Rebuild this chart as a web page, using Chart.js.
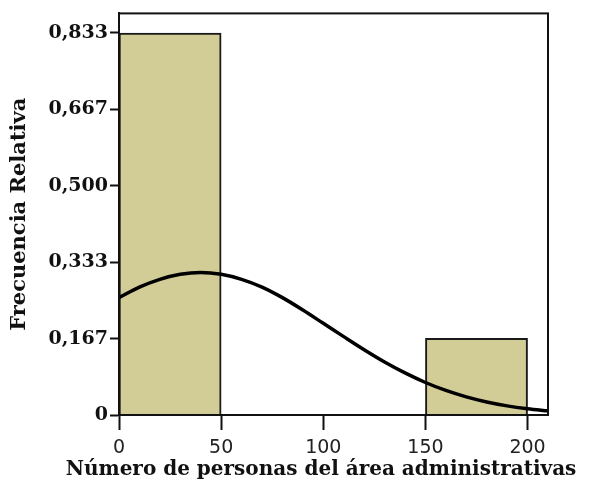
<!DOCTYPE html>
<html>
<head>
<meta charset="utf-8">
<script src="https://cdn.jsdelivr.net/npm/chart.js@4/dist/chart.umd.min.js"></script>
<style>
  body { margin: 0; background: #fff; }
  #wrap { width: 590px; height: 491px; }
</style>
</head>
<body>
<div id="wrap"><canvas id="histChart"></canvas></div>
<script>
// histogram bins (centre of each 50-wide bin) and relative frequency
const binCenters = [25, 75, 125, 175];
const relFreq = [0.833, 0, 0, 0.167];

// normal curve
const curveX = [0, 10, 20, 30, 40, 50, 60, 70, 80, 90, 100, 110, 120, 130, 140, 150, 160, 170, 180, 190, 200, 210];
const curveY = [0.256, 0.279, 0.296, 0.307, 0.311, 0.307, 0.296, 0.279, 0.256, 0.229, 0.200, 0.171, 0.1425, 0.1157, 0.0918, 0.0709, 0.0535, 0.0395, 0.0284, 0.0199, 0.0137, 0.0091];

// axis ticks
const xTicks = [0, 50, 100, 150, 200];
const yTicks = [0, 1 / 6, 2 / 6, 3 / 6, 4 / 6, 5 / 6];
const yTickLabels = ['0', '0,167', '0,333', '0,500', '0,667', '0,833'];
const xTitle = 'Número de personas del área administrativas';

// box round the plot area, and the x title (wider than the axis)
const frameBox = {
  id: 'frameBox',
  afterDraw(chart) {
    const a = chart.chartArea;
    const ctx = chart.ctx;
    ctx.save();
    ctx.strokeStyle = '#111';
    ctx.lineWidth = 2;
    ctx.strokeRect(a.left, a.top, a.right - a.left, a.bottom - a.top);
    ctx.fillStyle = '#111';
    ctx.font = 'bold 20px "DejaVu Serif"';
    ctx.textAlign = 'center';
    ctx.textBaseline = 'middle';
    ctx.fillText(xTitle, 321, 470);
    ctx.restore();
  }
};

const ctx = document.getElementById('histChart').getContext('2d');

new Chart(ctx, {
  type: 'bar',
  data: {
    datasets: [
      {
        type: 'line',
        data: curveX.map((x, i) => ({ x: x, y: curveY[i] })),
        borderColor: '#000',
        borderWidth: 3.5,
        pointRadius: 0,
        cubicInterpolationMode: 'monotone',
        fill: false,
        order: 0
      },
      {
        type: 'bar',
        data: binCenters.map((x, i) => ({ x: x, y: relFreq[i] })),
        backgroundColor: '#d2cd96',
        borderColor: '#1a1a1a',
        borderWidth: 2,
        barPercentage: 1,
        categoryPercentage: 1,
        order: 1
      }
    ]
  },
  options: {
    responsive: true,
    maintainAspectRatio: false,
    animation: false,
    layout: { padding: { top: 12, right: 42, left: 0, bottom: 0 } },
    plugins: {
      legend: { display: false },
      tooltip: { enabled: false }
    },
    scales: {
      x: {
        type: 'linear',
        min: 0,
        max: 210,
        offset: false,
        afterFit: (scale) => { scale.height = 76; },
        afterBuildTicks: (scale) => { scale.ticks = xTicks.map((v) => ({ value: v })); },
        grid: { drawOnChartArea: false, offset: false, tickLength: 15, color: '#111', tickWidth: 2 },
        border: { color: '#111', width: 2 },
        ticks: {
          padding: 7,
          color: '#222',
          font: { family: 'DejaVu Sans', size: 19 },
          maxRotation: 0
        },
        title: { display: false }
      },
      y: {
        min: 0,
        max: 0.876,
        afterFit: (scale) => { scale.width = 119; },
        afterBuildTicks: (scale) => { scale.ticks = yTicks.map((v) => ({ value: v })); },
        grid: { drawOnChartArea: false, tickLength: 9, color: '#111', tickWidth: 2 },
        border: { color: '#111', width: 2 },
        ticks: {
          padding: 2,
          color: '#111',
          font: { family: 'DejaVu Serif', size: 19, weight: 'bold' },
          callback: (value, index) => yTickLabels[index]
        },
        title: {
          display: true,
          text: 'Frecuencia Relativa',
          color: '#111',
          font: { family: 'DejaVu Serif', size: 21, weight: 'bold' },
          padding: { top: 7, bottom: 0 }
        }
      }
    }
  },
  plugins: [frameBox]
});
</script>
</body>
</html>
